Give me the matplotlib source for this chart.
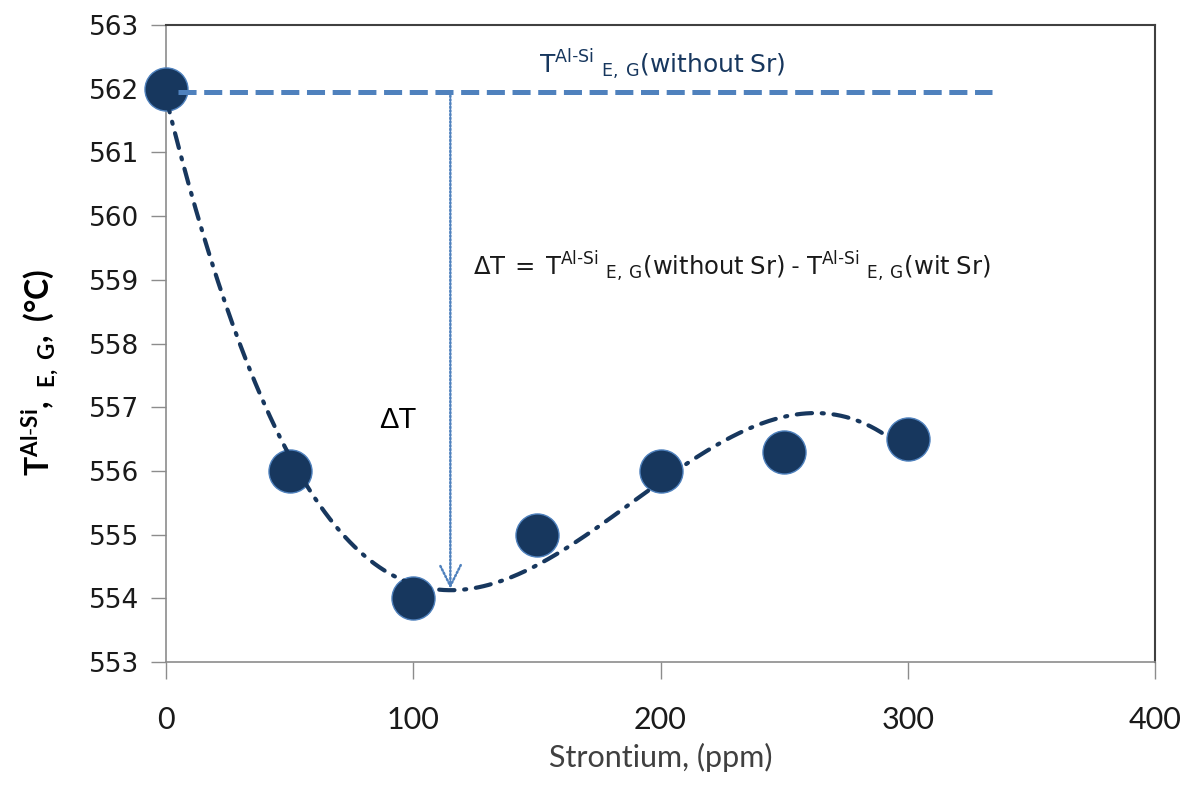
import numpy as np
import matplotlib
matplotlib.use("Agg")
import matplotlib.pyplot as plt

# ---- data ----
strontium_ppm = [0, 50, 100, 150, 200, 250, 300]
temperature_c = [562.0, 556.0, 554.0, 555.0, 556.0, 556.3, 556.5]
baseline_temp = 561.95           # T(without Sr) reference line
baseline_x = [5, 334]
delta_x = 115                     # position of the ΔT arrow
delta_low = 554.15
x_ticks = [0, 100, 200, 300, 400]
y_ticks = [553, 554, 555, 556, 557, 558, 559, 560, 561, 562, 563]

plt.rcParams['lines.scale_dashes'] = False
plt.rcParams['mathtext.fontset'] = 'custom'
plt.rcParams['mathtext.rm'] = 'Lato'
plt.rcParams['mathtext.it'] = 'Lato:italic'
plt.rcParams['mathtext.bf'] = 'Lato:bold'

navy = '#17375E'
blue = '#4F81BD'

fig = plt.figure(figsize=(11.91, 7.97), dpi=100)
ax = fig.add_axes([166/1191, 1-662/797, (1155-166)/1191, (662-25)/797])

# trendline (cubic polynomial fit of the data)
coef = np.polyfit(strontium_ppm, temperature_c, 3)
xs = np.linspace(0, 300, 300)
tl, = ax.plot(xs, np.polyval(coef, xs), color=navy, lw=3.0, zorder=4,
              solid_capstyle='round', dash_capstyle='round')
tl.set_dashes([11, 7, 1.5, 7])

ax.plot(strontium_ppm, temperature_c, 'o', ms=31, color=navy, mec=blue,
        mew=1.0, zorder=3, clip_on=False)

# baseline dashed line
bl, = ax.plot(baseline_x, [baseline_temp, baseline_temp], color=blue, lw=3.6,
              zorder=5)
bl.set_dashes([13, 5.5])

# ΔT arrow
ax.annotate('', xy=(delta_x, delta_low), xytext=(delta_x, baseline_temp),
            arrowprops=dict(arrowstyle='->,head_length=0.5,head_width=0.25',
                            color=blue, lw=1.8, ls=':',
                            mutation_scale=30, shrinkA=0, shrinkB=0),
            zorder=6)

ax.set_xlim(0, 400)
ax.set_ylim(553, 563)
ax.set_xticks(x_ticks)
ax.set_yticks(y_ticks)
ax.set_xticklabels([str(v) for v in x_ticks], fontsize=22,
                   family='Lato', color='#1a1a1a')
ax.set_yticklabels([str(v) for v in y_ticks], fontsize=19,
                   family='DejaVu Sans', color='#1a1a1a')
ax.tick_params(axis='y', length=11, width=1, color='#8c8c8c', pad=8)
ax.tick_params(axis='x', length=12, width=1, color='#8c8c8c', pad=20)
for s in ['left', 'bottom']:
    ax.spines[s].set_color('#8c8c8c')
    ax.spines[s].set_linewidth(1.2)
for s in ['top', 'right']:
    ax.spines[s].set_color('#404040')
    ax.spines[s].set_linewidth(1.5)

ax.set_xlabel('Strontium, (ppm)', fontsize=22, color='#404040',
              family='Lato', labelpad=6)
fig.text(40/1191, 1-372/797,
         r'$\mathbf{T^{Al\text{-}Si},\ _{E,\ G},\ (°C)}$', rotation=90,
         fontsize=23, ha='center', va='center', color='#000000')

ax.text(151, 562.37,
        r'$\mathregular{T^{Al\text{-}Si}\ _{E,\ G}(without\ Sr)}$',
        fontsize=18, color=navy, ha='left', va='center')
ax.text(124, 559.2,
        r'$\mathregular{\Delta T\ =\ T^{Al\text{-}Si}\ _{E,\ G}(without\ Sr)\ \text{-}\ T^{Al\text{-}Si}\ _{E,\ G}(wit\ Sr)}$',
        fontsize=17.5, color='#1a1a1a', ha='left', va='center')
ax.text(86, 556.8, 'ΔT', fontsize=21, family='Liberation Sans', color='black',
        ha='left', va='center')

fig.savefig('out.png', dpi=100)
